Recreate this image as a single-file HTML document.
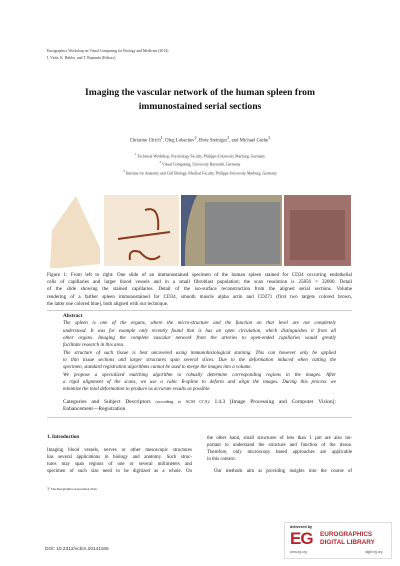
<!DOCTYPE html>
<html><head><meta charset="utf-8"><style>
body{margin:0;width:400px;height:566px;background:#fff;position:relative;overflow:hidden;font-family:"Liberation Serif",serif;color:#222}
.a{position:absolute;margin:0}
.L{position:absolute;white-space:nowrap;text-align:justify;text-align-last:justify;font-size:5px;line-height:6px;overflow:visible}
.n{text-align-last:left}
.cap{left:47px;width:305px}
.ab{left:63px;width:273px;font-style:italic}
.cl{left:47px;width:145px;font-size:4.9px}
.cr{left:207px;width:145px;font-size:4.9px}
</style></head><body>
<div class="a" style="left:47px;top:48px;font-size:3.8px;line-height:6.5px;color:#333">Eurographics Workshop on Visual Computing for Biology and Medicine (2014)<br>I. Viola, K. Bühler, and T. Ropinski (Editors)</div>
<div class="a" style="left:0;width:400px;top:86px;text-align:center;font-weight:bold;font-size:9.6px;line-height:14px;color:#111">Imaging the vascular network of the human spleen from<br>immunostained serial sections</div>
<div class="a" style="left:0;width:400px;top:135px;text-align:center;font-size:4.8px;color:#333">Christine Ulrich<sup>1</sup>, Oleg Lobachev<sup>2</sup>, Birte Steiniger<sup>3</sup>, and Michael Guthe<sup>2</sup></div>
<div class="a" style="left:0;width:400px;top:151px;text-align:center;font-size:3.9px;line-height:6px;color:#333"><sup>1</sup> Technical Workshop, Psychology Faculty, Philipps-University Marburg, Germany<br><sup>2</sup> Visual Computing, University Bayreuth, Germany<br><sup>3</sup> Institute for Anatomy and Cell Biology, Medical Faculty, Philipps-University Marburg, Germany</div>
<svg class="a" style="left:0;top:190px" width="400" height="80">
<polygon points="50,78 52,40 76,6 100,58 100,74 60,78" fill="#f0dfc4"/>
<rect x="104" y="5" width="75" height="71" fill="#f4e7d6"/>
<path d="M118,49 L170,42 M130,70 Q128,58 140,62 Q150,74 160,66 M145,20 Q160,15 158,40" stroke="#8a3a1a" stroke-width="2" fill="none"/>
<rect x="181" y="5" width="101" height="71" fill="#a99e80"/>
<path d="M181,5 L197,5 Q184,30 185,76 L181,76Z" fill="#4e5d7d"/>
<rect x="205" y="12" width="75" height="62" fill="#6b7690" opacity="0.55"/>
<rect x="284" y="5" width="67" height="71" fill="#a0726e"/>
<rect x="290" y="20" width="55" height="50" fill="#7a4a45" opacity="0.5"/>
</svg>
<div>
<div class="L cap" style="top:273px">Figure 1: From left to right: One slide of an immunostained specimen of the human spleen stained for CD34 occurring endothelial</div>
<div class="L cap" style="top:280px">cells of capillaries and larger blood vessels and in a small fibroblast population; the scan resolution is 25856 × 32000. Detail</div>
<div class="L cap" style="top:287px">of the slide showing the stained capillaries. Detail of the iso-surface reconstruction from the aligned serial sections. Volume</div>
<div class="L cap" style="top:294.5px">rendering of a farther spleen immunostained for CD34, smooth muscle alpha actin and CD271 (first two targets colored brown,</div>
<div class="L cap n" style="top:302px">the latter one colored blue), both aligned with our technique.</div>
</div>
<div class="a" style="left:47px;width:305px;top:310px;height:1px;background:#ccc"></div>
<div class="a" style="left:63px;top:313px;font-size:5.2px;font-weight:bold">Abstract</div>
<div>
<div class="L ab" style="top:321px">The spleen is one of the organs, where the micro-structure and the function on that level are not completely</div>
<div class="L ab" style="top:328.5px">understood. It was for example only recently found that is has an open circulation, which distinguishes it from all</div>
<div class="L ab" style="top:336px">other organs. Imaging the complete vascular network from the arteries to open-ended capillaries would greatly</div>
<div class="L ab n" style="top:343px">facilitate research in this area.</div>
<div class="L ab" style="top:350.5px">The structure of such tissue is best uncovered using immunohistological staining. This can however only be applied</div>
<div class="L ab" style="top:358px">to thin tissue sections and larger structures span several slices. Due to the deformation induced when cutting the</div>
<div class="L ab n" style="top:365px">specimen, standard registration algorithms cannot be used to merge the images into a volume.</div>
<div class="L ab" style="top:372.5px">We propose a specialized matching algorithm to robustly determine corresponding regions in the images. After</div>
<div class="L ab" style="top:380px">a rigid alignment of the scans, we use a cubic B-spline to deform and align the images. During this process we</div>
<div class="L ab n" style="top:387px">minimize the total deformation to produce as accurate results as possible.</div>
</div>
<div class="L" style="left:63px;width:273px;top:398px;font-size:5.5px;line-height:7px">Categories and Subject Descriptors <span style="font-size:4.2px">(according to ACM CCS)</span>: I.4.3 [Image Processing and Computer Vision]:</div>
<div class="L n" style="left:63px;top:406px;font-size:5.5px;line-height:7px">Enhancement—Registration</div>
<div class="a" style="left:47px;width:305px;top:417px;height:1px;background:#ccc"></div>
<div class="a" style="left:47px;top:435px;font-size:5px;font-weight:bold">1. Introduction</div>
<div>
<div class="L cl" style="top:448px">Imaging blood vessels, nerves or other mesoscopic structures</div>
<div class="L cl" style="top:455px">has several applications in biology and anatomy. Such struc-</div>
<div class="L cl" style="top:462px">tures may span regions of one or several millimeters and</div>
<div class="L cl" style="top:469px">specimen of such size need to be digitized as a whole. On</div>
</div>
<div>
<div class="L cr" style="top:436px">the other hand, small structures of less than 1 µm are also im-</div>
<div class="L cr" style="top:443px">portant to understand the structure and function of the tissue.</div>
<div class="L cr" style="top:450px">Therefore, only microscopy based approaches are applicable</div>
<div class="L cr n" style="top:457px">in this context.</div>
<div class="L cr" style="top:469px;left:214px;width:138px">Our methods aim at providing insights into the course of</div>
</div>
<div class="a" style="left:47px;top:486px;font-size:3.2px">ⓒ The Eurographics Association 2014.</div>
<div class="a" style="left:45px;top:547px;font-family:'Liberation Sans',sans-serif;font-size:4.8px;color:#333">DOI: 10.2312/vcbm.20141185</div>
<div class="a" style="left:284px;top:522px;width:106px;height:35px;border:1px solid #ddd;font-family:'Liberation Sans',sans-serif">
<div class="a" style="left:5px;top:2px;font-size:3.8px;font-weight:bold">delivered by</div>
<div class="a" style="left:5px;top:7px;font-size:17px;font-weight:900;color:#b3272d;line-height:18px;letter-spacing:-1px">EG</div>
<div class="a" style="left:35px;top:8px;font-size:6.4px;font-weight:bold;color:#b3272d;line-height:8px">EUROGRAPHICS<br>DIGITAL LIBRARY</div>
<div class="a" style="left:5px;top:27px;font-size:3.2px;color:#555">www.eg.org</div>
<div class="a" style="left:80px;top:27px;font-size:3.2px;color:#555">diglib.eg.org</div>
</div>
</body></html>
